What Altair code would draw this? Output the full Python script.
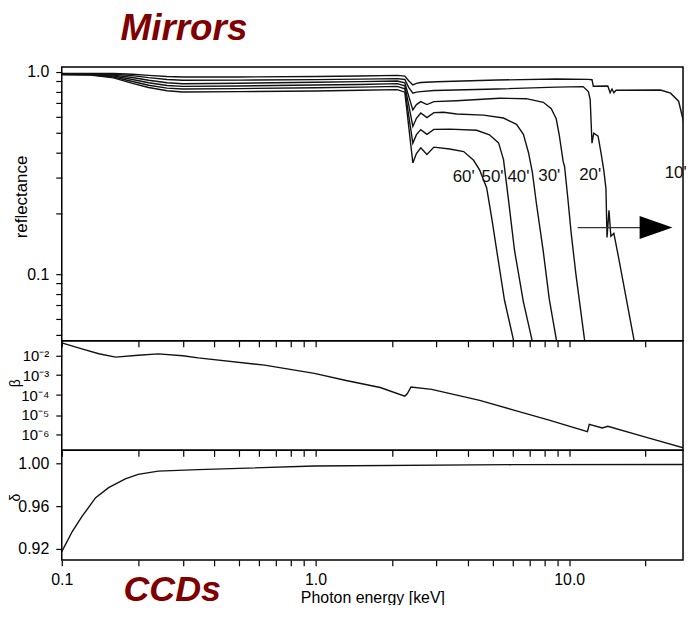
import altair as alt
import pandas as pd

FONT = "Liberation Sans Narrow, Liberation Sans, Arial, sans-serif"
TFONT = "Liberation Sans, Arial, sans-serif"
INK = "#111111"
RED = "#7f0000"

# ---------------- Mirrors: reflectance vs photon energy (keV) ----------------
LOW_E = [0.10, 0.13, 0.16, 0.19, 0.22, 0.26, 0.30, 0.50, 1.0, 1.5, 2.1, 2.25, 2.33, 2.42, 2.5, 2.6]

R10_LOW = [0.985, 0.985, 0.983, 0.975, 0.962, 0.950, 0.945, 0.945, 0.950, 0.955, 0.962, 0.955, 0.905, 0.863, 0.878, 0.887]
R20_LOW = [0.982, 0.981, 0.975, 0.960, 0.938, 0.918, 0.910, 0.912, 0.917, 0.922, 0.927, 0.918, 0.840, 0.785, 0.795, 0.800]
R30_LOW = [0.979, 0.977, 0.965, 0.940, 0.910, 0.885, 0.875, 0.880, 0.890, 0.896, 0.902, 0.885, 0.760, 0.650, 0.690, 0.714]
R40_LOW = [0.976, 0.973, 0.955, 0.918, 0.885, 0.858, 0.849, 0.853, 0.862, 0.868, 0.876, 0.855, 0.690, 0.538, 0.590, 0.627]
R50_LOW = [0.973, 0.969, 0.945, 0.898, 0.860, 0.832, 0.824, 0.828, 0.836, 0.842, 0.849, 0.825, 0.610, 0.445, 0.490, 0.519]
R60_LOW = [0.970, 0.965, 0.935, 0.878, 0.838, 0.808, 0.796, 0.800, 0.806, 0.812, 0.818, 0.795, 0.540, 0.355, 0.395, 0.422]

E10_HIGH = [3.0, 5.2, 8.9, 11.9, 12.3, 12.45, 14.2, 14.5, 14.75, 15.0, 15.3, 22.9, 25.1, 27.0, 28.2, 29.0, 29.6, 30.5]
R10_HIGH = [0.895, 0.913, 0.923, 0.920, 0.916, 0.850, 0.852, 0.790, 0.824, 0.790, 0.813, 0.815, 0.786, 0.717, 0.572, 0.392, 0.270, 0.160]

E20_HIGH = [2.93, 5.2, 8.9, 11.35, 11.9, 12.1, 12.3, 12.5, 13.0, 13.35, 13.7, 13.96, 14.1, 14.35, 14.6, 15.0, 15.6, 18.0, 18.4]
R20_HIGH = [0.810, 0.824, 0.842, 0.847, 0.800, 0.732, 0.445, 0.498, 0.482, 0.398, 0.325, 0.265, 0.152, 0.207, 0.154, 0.159, 0.124, 0.0475, 0.040]

E30_HIGH = [2.75, 2.93, 3.6, 5.31, 6.78, 7.91, 8.5, 8.89, 9.14, 9.47, 9.59, 9.89, 10.18, 10.65, 11.48, 11.7]
R30_HIGH = [0.690, 0.714, 0.721, 0.742, 0.738, 0.708, 0.658, 0.587, 0.487, 0.360, 0.341, 0.234, 0.160, 0.098, 0.048, 0.042]

E40_HIGH = [2.75, 2.93, 3.2, 3.6, 4.6, 5.51, 6.2, 6.6, 6.91, 7.16, 7.43, 7.89, 8.35, 8.89, 9.1]
R40_HIGH = [0.595, 0.630, 0.632, 0.620, 0.612, 0.592, 0.551, 0.492, 0.400, 0.319, 0.223, 0.132, 0.075, 0.0478, 0.041]

E50_HIGH = [2.75, 2.93, 3.38, 4.32, 4.85, 5.27, 5.51, 5.61, 5.77, 6.09, 6.6, 7.16, 7.3]
R50_HIGH = [0.492, 0.520, 0.522, 0.515, 0.489, 0.446, 0.369, 0.307, 0.231, 0.131, 0.073, 0.0464, 0.040]

E60_HIGH = [2.75, 2.93, 3.38, 3.84, 4.2, 4.44, 4.73, 4.95, 5.18, 5.56, 6.03, 6.15]
R60_HIGH = [0.391, 0.425, 0.416, 0.404, 0.366, 0.327, 0.267, 0.190, 0.131, 0.0743, 0.0473, 0.040]

ANGLES = ["10'", "20'", "30'", "40'", "50'", "60'"]
SERIES = {
    "10'": (LOW_E + E10_HIGH, R10_LOW + R10_HIGH),
    "20'": (LOW_E + E20_HIGH, R20_LOW + R20_HIGH),
    "30'": (LOW_E + E30_HIGH, R30_LOW + R30_HIGH),
    "40'": (LOW_E + E40_HIGH, R40_LOW + R40_HIGH),
    "50'": (LOW_E + E50_HIGH, R50_LOW + R50_HIGH),
    "60'": (LOW_E + E60_HIGH, R60_LOW + R60_HIGH),
}

LABEL_TEXT = ["60'", "50'", "40'", "30'", "20'", "10'"]
LABEL_E = [3.84, 4.99, 6.31, 8.35, 12.1, 26.3]
LABEL_R = [0.302, 0.303, 0.304, 0.306, 0.309, 0.315]

ARROW_E = [10.8]
ARROW_E2 = [19.6]
ARROW_R = [0.17]
HEAD_E = [22.0]

# ---------------- beta ----------------
BETA_E = [0.10, 0.12, 0.14, 0.163, 0.20, 0.24, 0.30, 0.345, 0.63, 0.99, 1.32, 1.80, 2.25, 2.30, 2.38,
          2.87, 4.44, 6.0, 8.27, 11.8, 12.0, 13.5, 14.2, 20.0, 30.0]
BETA = [4.2e-2, 2.1e-2, 1.2e-2, 8.1e-3, 1.0e-2, 1.18e-2, 9.5e-3, 7.4e-3, 3.2e-3, 1.23e-3, 5.4e-4, 2.4e-4,
        8.9e-5, 1.17e-4, 2.57e-4, 1.95e-4, 5.4e-5, 1.82e-5, 5.75e-6, 1.46e-6, 3.43e-6, 2.24e-6, 2.72e-6,
        7.8e-7, 1.78e-7]

# ---------------- delta ----------------
DELTA_E = [0.10, 0.11, 0.12, 0.136, 0.153, 0.178, 0.20, 0.24, 0.345, 0.99, 6.0, 30.0]
DELTA = [0.917, 0.936, 0.950, 0.968, 0.9775, 0.9857, 0.990, 0.9931, 0.9945, 0.9979, 0.9992, 0.9993]

X_TICKS = [0.1, 0.2, 0.3, 0.4, 0.5, 0.6, 0.7, 0.8, 0.9, 1, 2, 3, 4, 5, 6, 7, 8, 9, 10, 20]
R_TICKS = [0.05, 0.06, 0.07, 0.08, 0.09, 0.1, 0.2, 0.3, 0.4, 0.5, 0.6, 0.7, 0.8, 0.9, 1.0]
B_TICKS = [1e-2, 1e-3, 1e-4, 1e-5, 1e-6]
D_TICKS = [0.92, 0.96, 1.00]

# ---------------- tables ----------------
rows = []
for a in ANGLES:
    es, rs = SERIES[a]
    for i, (e, r) in enumerate(zip(es, rs)):
        rows.append({"angle": a, "i": i, "E": e, "R": r})
mir = pd.DataFrame(rows)
lab = pd.DataFrame({"t": LABEL_TEXT, "E": LABEL_E, "R": LABEL_R})
arrow = pd.DataFrame({"E": ARROW_E, "E2": ARROW_E2, "R": ARROW_R})
head = pd.DataFrame({"E": HEAD_E, "R": ARROW_R})
bdf = pd.DataFrame({"i": range(len(BETA_E)), "E": BETA_E, "B": BETA})
ddf = pd.DataFrame({"i": range(len(DELTA_E)), "E": DELTA_E, "D": DELTA})

W = 624
xs = alt.Scale(type="log", domain=[0.1, 28.1])
ax_hidden = alt.Axis(values=X_TICKS, labels=False)
ax_bottom = alt.Axis(values=X_TICKS, labelExpr="datum.value == 0.1 || datum.value == 1 || datum.value == 10 ? format(datum.value, '.1f') : ''",
                     labelFlush=False, labelOverlap=False, labelPadding=6, labelFontSize=16,
                     title="Photon energy [keV]", titleFont=FONT, titleFontSize=16,
                     titleFontWeight="normal", titleY=38, titleBaseline="middle")

ys_r = alt.Scale(type="log", domain=[0.0468, 1.058])
ax_r = alt.Axis(values=R_TICKS, labelExpr="datum.value == 0.1 || datum.value == 1 ? format(datum.value, '.1f') : ''",
                labelOverlap=False, labelPadding=7, labelFontSize=16, title="reflectance", titleX=-35, titleY=130,
                titleBaseline="alphabetic", titleFontSize=17, titleFont=TFONT, titleFontWeight="normal")

x_top = alt.X("E:Q", scale=xs, axis=ax_hidden, title=None)
y_top = alt.Y("R:Q", scale=ys_r, axis=ax_r)

lines = alt.Chart(mir).mark_line(clip=True, color=INK, strokeWidth=1.4).encode(
    x=x_top, y=y_top, detail="angle:N", order="i:Q")
labels = alt.Chart(lab).mark_text(font=FONT, fontSize=17, color=INK).encode(
    x=x_top, y=y_top, text="t:N")
arrow_line = alt.Chart(arrow).mark_rule(color="#333333", strokeWidth=1.2).encode(
    x=x_top, x2="E2:Q", y=y_top)
arrow_head = alt.Chart(head).mark_point(shape="M-1,-0.7L1,0L-1,0.7Z", size=1089, filled=True,
                                        color="black", opacity=1, strokeWidth=0).encode(
    x=x_top, y=y_top)

mirrors = alt.layer(lines, labels, arrow_line, arrow_head).properties(
    width=W, height=275,
    title=alt.TitleParams("Mirrors", font=TFONT, fontSize=37, fontWeight="bold", fontStyle="italic",
                          color=RED, anchor="start", frame="group", dx=59, offset=-13,
                          baseline="alphabetic"))

ax_b = alt.Axis(values=B_TICKS, labelExpr="'10\u207b' + ['\u2070','\u00b9','\u00b2','\u00b3','\u2074','\u2075','\u2076','\u2077'][round(-log(datum.value)/LN10)]",
                labelOverlap=False, labelPadding=7, labelFontSize=15, title="\u03b2", titleX=-42, titleY=42,
                titleBaseline="alphabetic", titleFontSize=14, titleFont=TFONT, titleFontWeight="normal")
beta = alt.Chart(bdf).mark_line(clip=True, color=INK, strokeWidth=1.4).encode(
    x=alt.X("E:Q", scale=xs, axis=ax_hidden, title=None),
    y=alt.Y("B:Q", scale=alt.Scale(type="log", domain=[10 ** -6.775, 10 ** -1.275]), axis=ax_b),
    order="i:Q").properties(width=W, height=110)

ax_d = alt.Axis(values=D_TICKS, format=".2f", labelOverlap=False, labelPadding=7, labelFontSize=16,
                title="\u03b4", titleX=-42, titleY=47, titleBaseline="alphabetic", titleFontSize=14,
                titleFont=TFONT, titleFontWeight="normal")
delta = alt.Chart(ddf).mark_line(clip=True, color=INK, strokeWidth=1.4).encode(
    x=alt.X("E:Q", scale=xs, axis=ax_bottom),
    y=alt.Y("D:Q", scale=alt.Scale(domain=[0.9092, 1.0127], zero=False), axis=ax_d),
    order="i:Q").properties(
    width=W, height=110,
    title=alt.TitleParams("CCDs", font=TFONT, fontSize=36, fontWeight="bold", fontStyle="italic",
                          color=RED, anchor="start", frame="group", dx=62, offset=-33,
                          orient="bottom", baseline="top"))

chart = alt.vconcat(mirrors, beta, delta, spacing=0, bounds="flush").configure_view(
    stroke="black", strokeWidth=1.5
).configure_axis(
    labelFont=FONT, labelColor="black", tickColor="black", tickWidth=1.2, tickSize=6,
    domain=False, grid=False, titleColor="black"
).properties(padding={"left": 0, "top": 0, "right": -1, "bottom": -5})

chart.save("out.html", embed_options={"renderer": "svg", "actions": False})
